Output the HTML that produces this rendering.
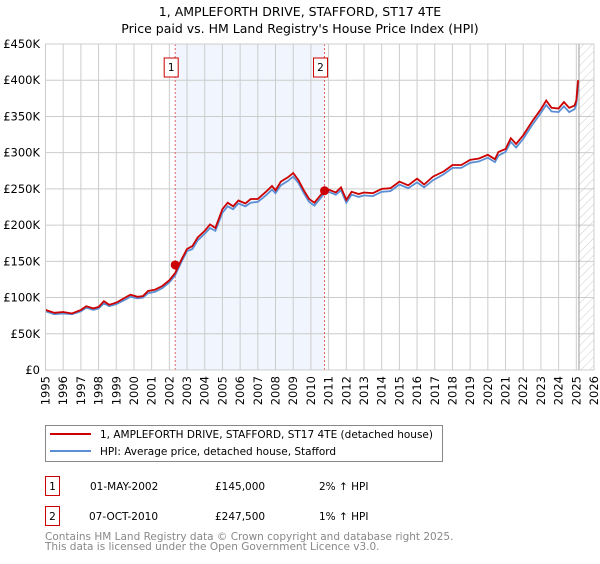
<!DOCTYPE html>
<html><head><meta charset="utf-8"><style>
body{margin:0;background:#fff;font-family:"DejaVu Sans","Liberation Sans",sans-serif;}
svg text{font-family:"DejaVu Sans","Liberation Sans",sans-serif;}
</style></head><body>
<svg id="c" width="600" height="560" xmlns="http://www.w3.org/2000/svg">
<defs><pattern id="hatch" width="6" height="6" patternUnits="userSpaceOnUse" patternTransform="rotate(45)"><line x1="0" y1="0" x2="0" y2="6" stroke="#ccc" stroke-width="1"/></pattern></defs>
<text x="300" y="16" text-anchor="middle" font-size="12.5">1, AMPLEFORTH DRIVE, STAFFORD, ST17 4TE</text>
<text x="300" y="33" text-anchor="middle" font-size="12.5">Price paid vs. HM Land Registry's House Price Index (HPI)</text>
<g id="plot"></g>
<rect x="45.5" y="425.5" width="397" height="36" fill="#fff" stroke="#888"/>
<line x1="50" y1="434" x2="91" y2="434" stroke="#cc0000" stroke-width="2"/>
<text x="100" y="438" font-size="10.5">1, AMPLEFORTH DRIVE, STAFFORD, ST17 4TE (detached house)</text>
<line x1="50" y1="451" x2="91" y2="451" stroke="#5b8fd4" stroke-width="2"/>
<text x="100" y="455" font-size="10.5">HPI: Average price, detached house, Stafford</text>
<g>
<rect x="45.5" y="476.5" width="14" height="19" fill="#fff" stroke="#cc0000"/>
<text x="52.5" y="490" text-anchor="middle" font-size="10.5">1</text>
<text x="90" y="490" font-size="10.5">01-MAY-2002</text>
<text x="215" y="490" font-size="10.5">£145,000</text>
<text x="319" y="490" font-size="10.5">2% ↑ HPI</text></g>
<g>
<rect x="45.5" y="506.5" width="14" height="19" fill="#fff" stroke="#cc0000"/>
<text x="52.5" y="520" text-anchor="middle" font-size="10.5">2</text>
<text x="89" y="520" font-size="10.5">07-OCT-2010</text>
<text x="215" y="520" font-size="10.5">£247,500</text>
<text x="319" y="520" font-size="10.5">1% ↑ HPI</text></g>
<text x="45" y="540" font-size="10.5" fill="#888">Contains HM Land Registry data © Crown copyright and database right 2025.</text>
<text x="45" y="550" font-size="10.5" fill="#888">This data is licensed under the Open Government Licence v3.0.</text>
</svg>
<script>
const yearTicks=[1995,1996,1997,1998,1999,2000,2001,2002,2003,2004,2005,2006,2007,2008,2009,2010,2011,2012,2013,2014,2015,2016,2017,2018,2019,2020,2021,2022,2023,2024,2025,2026];
const priceTicks=[0,50000,100000,150000,200000,250000,300000,350000,400000,450000];
const priceLabels=["£0","£50K","£100K","£150K","£200K","£250K","£300K","£350K","£400K","£450K"];
const propT=[1995.0,1995.5,1996,1996.5,1997,1997.3,1997.7,1998,1998.3,1998.6,1999,1999.5,1999.8,2000.2,2000.5,2000.8,2001.2,2001.6,2002.0,2002.33,2002.7,2003,2003.3,2003.6,2004,2004.3,2004.6,2005,2005.3,2005.6,2005.9,2006.3,2006.6,2007,2007.5,2007.8,2008.0,2008.3,2008.7,2009.0,2009.3,2009.6,2009.9,2010.2,2010.5,2010.77,2011,2011.4,2011.7,2012.0,2012.3,2012.7,2013,2013.5,2014,2014.5,2015,2015.5,2016,2016.4,2016.9,2017.5,2018,2018.5,2019,2019.5,2020,2020.4,2020.6,2021,2021.3,2021.6,2022,2022.5,2023,2023.3,2023.6,2024,2024.3,2024.6,2024.9,2025.0,2025.1];
const propV=[83000,79000,80000,78000,83000,88000,85000,87000,95000,90000,93000,100000,104000,101000,102000,109000,111000,116000,124000,134000,153000,167000,171000,183000,192000,201000,196000,222000,231000,226000,234000,230000,236000,236000,247000,254000,248000,260000,266000,272000,262000,248000,236000,231000,240000,247500,249000,245000,252000,235000,246000,243000,245000,244000,250000,251000,260000,255000,264000,256000,267000,274000,283000,283000,290000,292000,297000,291000,301000,305000,320000,312000,324000,343000,360000,372000,362000,361000,370000,362000,365000,372000,400000];
const hpiT=propT;
const hpiV=[81000,77000,78000,77000,81000,86000,83000,85000,92000,88000,91000,97000,101000,99000,100000,106000,108000,113000,121000,131000,150000,164000,167000,179000,188000,196000,192000,217000,226000,222000,230000,226000,231000,232000,242000,249000,244000,255000,261000,267000,258000,244000,232000,227000,236000,244000,246000,242000,248000,231000,242000,239000,241000,240000,246000,247000,256000,251000,259000,252000,262000,270000,279000,279000,286000,288000,293000,287000,296000,301000,315000,307000,319000,338000,355000,366000,357000,356000,364000,356000,360000,366000,394000];
const saleT=[2002.33,2010.77];
const saleV=[145000,247500];
const saleLbl=["1","2"];
const dataEnd=2025.15;

const X0=45.5,X1=594,Y0=370,Y1=44;
const xs=t=>X0+(t-1995)/(2026-1995)*(X1-X0);
const ys=v=>Y0-v/450000*(Y0-Y1);
const NS="http://www.w3.org/2000/svg";
const g=document.getElementById('plot');
function mk(tag,attrs){const e=document.createElementNS(NS,tag);for(const k in attrs)e.setAttribute(k,attrs[k]);g.appendChild(e);return e;}

let r=mk('rect',{x:xs(saleT[0]),y:Y1,width:xs(saleT[1])-xs(saleT[0]),height:Y0-Y1,fill:'#eef3fc',opacity:0.8});


let h=mk('rect',{x:xs(dataEnd),y:Y1,width:X1-xs(dataEnd),height:Y0-Y1,fill:'url(#hatch)'});


yearTicks.forEach(y=>{
  let l=mk('line',{x1:xs(y),x2:xs(y),y1:Y1,y2:Y0,stroke:'#cccccc','stroke-width':1});
  
  
  let t=mk('text',{x:0,y:0,'font-size':11.5,'text-anchor':'end',transform:`translate(${xs(y)+4},${Y0+6}) rotate(-90)`});
  t.textContent=y;
  
  
});
priceTicks.forEach((v,i)=>{
  let l=mk('line',{x1:X0,x2:X1,y1:ys(v),y2:ys(v),stroke:'#cccccc','stroke-width':1});
  
  
  let t=mk('text',{x:40,y:ys(v)+4,'font-size':11.5,'text-anchor':'end'});
  t.textContent=priceLabels[i];
  
  
});
let el=mk('line',{x1:xs(dataEnd),x2:xs(dataEnd),y1:Y1,y2:Y0,stroke:'#999','stroke-width':1});


saleT.forEach((t,i)=>{
  let l=mk('line',{x1:xs(t),x2:xs(t),y1:Y1,y2:Y0,stroke:'#e06060','stroke-width':1,'stroke-dasharray':'2,2'});
  
  
  let b=mk('rect',{x:xs(t)-11,y:58,width:14,height:19,fill:'#fff',stroke:'#cc0000'});
  
  
  let tx=mk('text',{x:xs(t)-4,y:71,'font-size':10.5,'text-anchor':'middle'});
  tx.textContent=saleLbl[i];
  
  
});
let hp=mk('path',{d:hpiT.map((t,i)=>(i?'L':'M')+xs(t).toFixed(1)+','+ys(hpiV[i]).toFixed(1)).join(''),fill:'none',stroke:'#5b8fd4','stroke-width':1.8});


let pp=mk('path',{d:propT.map((t,i)=>(i?'L':'M')+xs(t).toFixed(1)+','+ys(propV[i]).toFixed(1)).join(''),fill:'none',stroke:'#cc0000','stroke-width':1.8});


saleT.forEach((t,i)=>{
  let c=mk('circle',{cx:xs(t),cy:ys(saleV[i]),r:4.5,fill:'#cc0000'});
  
  
});
let fr=mk('rect',{x:X0,y:Y1,width:X1-X0,height:Y0-Y1,fill:'none',stroke:'#cccccc'});


</script>
</body></html>
